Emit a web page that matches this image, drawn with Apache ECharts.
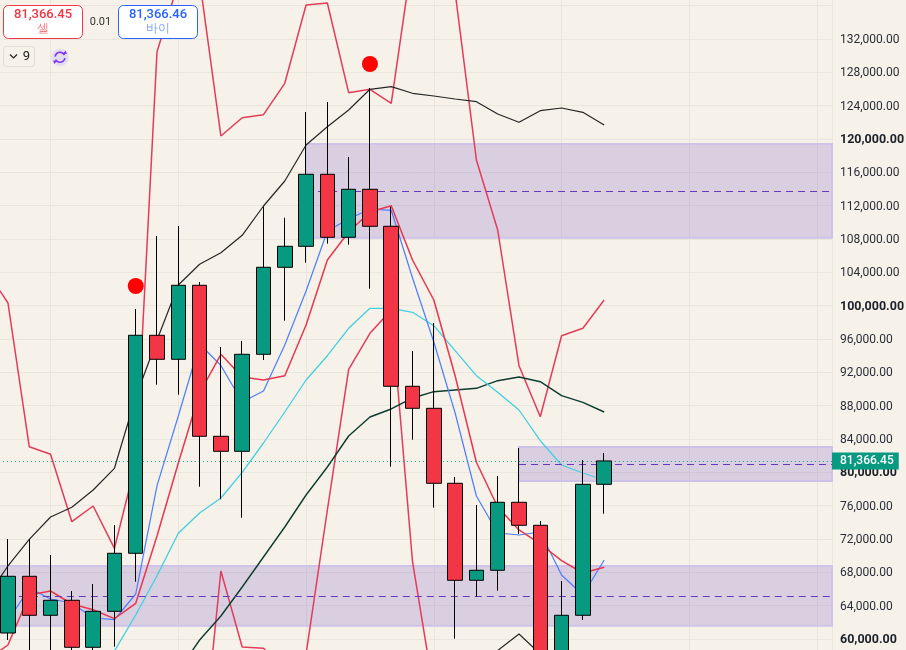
<!DOCTYPE html>
<html><head><meta charset="utf-8">
<style>html,body{margin:0;padding:0;background:#f6f2ea}#c{width:906px;height:650px}</style>
<script src="https://cdn.jsdelivr.net/npm/echarts@6/dist/echarts.min.js"></script>
</head><body><div id="c"></div>
<script>
const firstIndex = 4;
// [open, close, low, high]
const candles = [
[60720,67524,59880,72000],[67524,62844,57480,72000],[62844,64644,57500,70080],[64644,59004,58080,65760],
[59004,63324,58000,66600],[63324,70284,59076,73680],[70284,96444,66876,99600],[96444,93564,90516,108360],
[93564,102444,89316,109560],[102444,84324,78276,102840],[84324,82524,76764,95040],[82524,94164,74556,95760],
[94164,104604,93480,111876],[104604,107124,98196,110556],[107124,115764,105156,123240],[115764,108204,107436,124440],
[108204,113964,107316,117840],[113964,109524,102036,126120],[109524,90324,80676,111876],[90324,87684,83916,94560],
[87684,78684,75756,97920],[78684,67044,60036,79440],[67044,68244,65076,76080],[68244,76404,65796,79560],
[76404,73644,72600,82920],[73644,56000,54000,74160],[56000,62844,54000,66960],[62844,78564,62280,81480],
[78564,81366.45,75036,82320]];
// indicator lists start one bar before the first visible candle
const blackUpper = [65040,68760,71964,74640,75804,77880,80484,89040,95880,102480,104964,106356,108444,111960,114960,119280,121476,123480,125964,126276,125484,125160,124800,124476,123000,122004,123396,123720,123204,121680];
const redUpper = [104160,100320,83076,82164,74076,75960,70884,81120,130476,138720,139080,120360,122556,122916,126684,136080,136320,125556,125964,124284,141960,141480,137640,117480,109080,92796,86676,96396,97284,100680];
const redLower = [null,null,null,null,null,null,null,null,null,null,42840,68160,59040,58884,56280,58200,75480,92364,96684,99480,69276,53640];
const blackLower = [null,null,null,null,null,null,null,null,null,null,null,null,null,null,null,null,null,null,null,null,null,null,null,56880,58620,60600,58200,56880];
const blueFast = [59880,62160,66120,64800,64320,62520,62316,65400,78396,86760,95400,92820,88440,89760,95280,101760,108960,110400,111600,111444,103320,95640,87120,77160,72720,72480,72840,67680,65280,69480];
const redSignal = [57480,59280,65280,65760,64200,63516,62444,64284,72360,81120,89520,94164,91440,91080,91596,97680,105480,108840,111240,111996,105480,100680,91596,81204,75840,73080,71400,69396,67920,68604];
const cyanLine = [null,null,null,null,null,null,58560,62880,67596,72684,75120,76920,80004,83520,87240,91080,93996,97284,99684,99684,99204,97596,94596,91596,89604,87480,83796,80880,79920,79080];
const darkGreen = [null,null,null,null,null,null,null,null,null,56160,59880,62760,66240,69840,73440,77280,80640,84360,86640,87600,88920,89676,89880,90084,90996,91440,90876,89196,88404,87240];
const signalDots = [[6,102360],[17,129000]];
const zoneTops = [119400,83040,68760];
const zoneMids = [113724,80964,65124];
const zoneBottoms = [108156,78960,61596];
const zoneStarts = [14,24,-4];
const lastPrice = 81366.45;
const boldTicks = [60000,80000,100000,120000];
const hiddenTicks = [136000];
const sellPrice = '81,366.45', buyPrice = '81,366.46', spread = '0.01', sellLabel = '셀', buyLabel = '바이', lotLabel = '9';

const X_MAX = 42.7;
const toPairs = a => a.map((v,i)=>[i+firstIndex-1, v]);
const lineS = (name,data,color,width)=>({name,type:'line',data:toPairs(data),showSymbol:false,symbol:'none',
  connectNulls:false,lineStyle:{color,width},itemStyle:{color},z:3,silent:true});
const fontF = 'Roboto, "Liberation Sans", sans-serif';

const zoneAreas = zoneTops.map((t,i)=>[{coord:[zoneStarts[i]+firstIndex,t]},{coord:[X_MAX,zoneBottoms[i]]}]);
const zoneLines = zoneMids.map((m,i)=>[{coord:[zoneStarts[i]+firstIndex,m]},{coord:[X_MAX,m]}]);

const chart = echarts.init(document.getElementById('c'),null,{renderer:'canvas'});
const G=[], txt=(x,y,text,size,fill,weight,align)=>G.push({type:'text',x,y,z:100,style:{text,fontSize:size,fill,fontWeight:weight||'normal',
  fontFamily:fontF,align:align||'center',verticalAlign:'middle'}});
const box=(x,y,w,h,r,stroke,fill)=>G.push({type:'rect',z:99,shape:{x,y,width:w,height:h,r},style:{stroke,fill,lineWidth:1}});
box(3.5,5.5,79,33,5,'#f23645','#ffffff');
box(118.5,5.5,79,33,5,'#2962ff','#ffffff');
txt(43,15,sellPrice,13,'#f23645','500'); txt(43,29,sellLabel,12,'#f77c80');
txt(158,15,buyPrice,13,'#2962ff','500'); txt(158,29,buyLabel,12,'#82a3ff');
txt(100.5,22,spread,11,'#333333');
box(3.5,46.5,31,20,3,'#e0ddd6','#f6f2ea');
G.push({type:'polyline',z:100,shape:{points:[[10,54.5],[13.5,58],[17,54.5]]},style:{stroke:'#222',fill:null,lineWidth:1.2}});
txt(26.5,56.5,lotLabel,13,'#222222');
G.push({type:'circle',z:99,shape:{cx:60,cy:57.3,r:8.7},style:{fill:'#e4dcef'}});
G.push({type:'arc',z:100,shape:{cx:60,cy:57.3,r:5,startAngle:Math.PI*1.05,endAngle:Math.PI*1.85},style:{stroke:'#7c3aed',fill:null,lineWidth:1.6}});
G.push({type:'arc',z:100,shape:{cx:60,cy:57.3,r:5,startAngle:Math.PI*0.05,endAngle:Math.PI*0.85},style:{stroke:'#7c3aed',fill:null,lineWidth:1.6}});
G.push({type:'polygon',z:100,shape:{points:[[62.5,54],[66.8,54],[65.8,50.5]]},style:{fill:'#7c3aed'}});
G.push({type:'polygon',z:100,shape:{points:[[57.5,60.6],[53.2,60.6],[54.2,64.1]]},style:{fill:'#7c3aed'}});

chart.setOption({
  animation:false,
  backgroundColor:'#f6f2ea',
  textStyle:{fontFamily:fontF},
  grid:{left:-77.2,top:-27.67,width:909.2,height:700,containLabel:false,outerBoundsMode:'none'},
  xAxis:{type:'value',min:0,max:X_MAX,interval:6,
    axisLine:{show:false},axisTick:{show:false},axisLabel:{show:false},
    splitLine:{show:true,lineStyle:{color:'#e9e6de',width:1}}},
  yAxis:{type:'value',position:'right',min:56000,max:140000,interval:4000,scale:false,
    axisLine:{show:false},axisTick:{show:false},
    splitLine:{show:true,lineStyle:{color:'#e9e6de',width:1}},
    axisLabel:{show:true,margin:8,padding:[2,0,0,0],color:'#2a2e39',fontSize:12,fontFamily:fontF,showMinLabel:false,showMaxLabel:false,
      formatter:v=>{
        if(hiddenTicks.includes(v)) return '';
        const s=v.toLocaleString('en-US',{minimumFractionDigits:2,maximumFractionDigits:2});
        return boldTicks.includes(v)?'{b|'+s+'}':'{n|'+s+'}';
      },
      rich:{b:{fontWeight:'bold',fontSize:12.5,color:'#1c2028',fontFamily:fontF},n:{fontSize:12,color:'#2a2e39',fontFamily:fontF}}}},
  graphic:{elements:G},
  series:[
    {name:'zones',type:'line',data:[[firstIndex,lastPrice]],showSymbol:false,symbol:'none',lineStyle:{width:0},z:1,silent:true,
      markArea:{silent:true,itemStyle:{color:'rgba(103,58,183,0.19)',borderColor:'#cdc2e8',borderWidth:2},data:zoneAreas},
      markLine:{silent:true,symbol:'none',animation:false,label:{show:false},
        lineStyle:{color:'#673ab7',type:[7,5],width:1},data:zoneLines}},
    lineS('redUpper',redUpper,'#e23c5a',1.5),
    lineS('redLower',redLower,'#e23c5a',1.5),
    lineS('blackUpper',blackUpper,'#262626',1.2),
    lineS('blackLower',blackLower,'#262626',1.2),
    lineS('darkGreen',darkGreen,'#0d3b2e',1.4),
    lineS('cyan',cyanLine,'#42cfe0',1.3),
    lineS('blue',blueFast,'#4a7dff',1.2),
    lineS('redSignal',redSignal,'#e8364f',1.5),
    {name:'price',type:'candlestick',barWidth:15,z:5,silent:true,
      data:candles.map((c,i)=>[i+firstIndex,...c]),
      encode:{x:0,y:[1,2,3,4]},
      itemStyle:{color:'#089981',color0:'#f23645',borderColor:'#000000',borderColor0:'#000000',borderColorDoji:'#000000',borderWidth:1},
      markLine:{silent:true,symbol:'none',animation:false,
        lineStyle:{color:'#089981',type:[1,3],width:1},
        label:{show:true,position:'end',distance:0,formatter:()=>lastPrice.toLocaleString('en-US',{minimumFractionDigits:2}),
          color:'#ffffff',backgroundColor:'#089981',fontSize:12,fontWeight:'500',fontFamily:fontF,padding:[3,5,2,8]},
        data:[{yAxis:lastPrice}]}},
    {name:'signals',type:'scatter',symbol:'circle',symbolSize:16,z:6,silent:true,itemStyle:{color:'#ff0000',opacity:1},
      data:signalDots.map(d=>[d[0]+firstIndex,d[1]])}
  ]
});
</script></body></html>
